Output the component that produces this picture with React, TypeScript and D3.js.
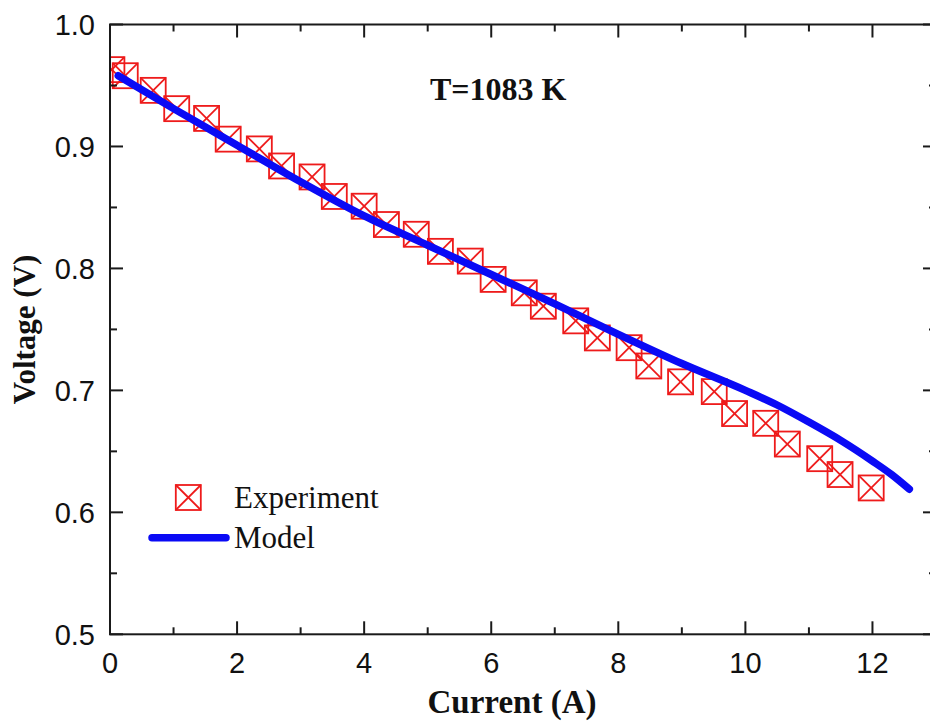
import React from "react";
import * as d3 from "d3";

const expCurrent = [0.03, 0.24, 0.68, 1.05, 1.52, 1.86, 2.35, 2.7, 3.18, 3.53, 4.0, 4.35, 4.82, 5.2, 5.67, 6.03, 6.52, 6.82, 7.33, 7.67, 8.17, 8.48, 8.98, 9.51, 9.83, 10.32, 10.66, 11.17, 11.49, 11.98];
const expVoltage = [0.963, 0.958, 0.946, 0.931, 0.923, 0.906, 0.898, 0.884, 0.875, 0.859, 0.851, 0.836, 0.828, 0.814, 0.806, 0.791, 0.78, 0.769, 0.757, 0.743, 0.735, 0.72, 0.707, 0.699, 0.681, 0.673, 0.656, 0.644, 0.631, 0.62];

const modelCurrent = [0.13, 1, 2, 3, 4, 5, 6, 7, 8, 9, 10, 10.5, 11, 11.5, 12, 12.3, 12.58];
const modelVoltage = [0.958, 0.931, 0.901, 0.871, 0.843, 0.819, 0.795, 0.771, 0.746, 0.722, 0.7, 0.688, 0.674, 0.659, 0.642, 0.631, 0.619];

const xMajorTicks = [0, 2, 4, 6, 8, 10, 12];
const xMinorTicks = [1, 3, 5, 7, 9, 11];
const yMajorTicks = [0.5, 0.6, 0.7, 0.8, 0.9, 1.0];
const yMinorTicks = [0.55, 0.65, 0.75, 0.85, 0.95];

const xLabel = "Current (A)";
const yLabel = "Voltage (V)";
const annotation = "T=1083 K";
const legendLabels = ["Experiment", "Model"];

const W = 930;
const H = 726;
const L = 110;
const R = 936;
const T = 24.5;
const B = 634.3;

export default function App() {
  const x = d3.scaleLinear().domain([0, 13]).range([L, R]);
  const y = d3.scaleLinear().domain([0.5, 1.0]).range([B, T]);

  const modelData = modelCurrent.map((c, i) => [c, modelVoltage[i]] as [number, number]);
  const line = d3
    .line<[number, number]>()
    .x((d) => x(d[0]))
    .y((d) => y(d[1]))
    .curve(d3.curveMonotoneX);

  const axisColor = "#1a1a1a";
  const majorLen = 13;
  const minorLen = 7;
  const ms = 12.5;
  const red = "#ee1b1b";
  const blue = "#0a0af5";

  const marker = (cx: number, cy: number, key: string | number) => (
    <g key={key} stroke={red} strokeWidth={1.8} fill="none">
      <rect x={cx - ms} y={cy - ms} width={ms * 2} height={ms * 2} />
      <line x1={cx - ms} y1={cy - ms} x2={cx + ms} y2={cy + ms} />
      <line x1={cx - ms} y1={cy + ms} x2={cx + ms} y2={cy - ms} />
    </g>
  );

  return (
    <svg width={W} height={H} style={{ position: "absolute", left: 0, top: 0, background: "#fff" }}>
      <defs>
        <clipPath id="plotClip">
          <rect x={L} y={T} width={R - L} height={B - T} />
        </clipPath>
      </defs>
      <rect x={0} y={0} width={W} height={H} fill="#fff" />

      {/* data */}
      <g clipPath="url(#plotClip)">
        {expCurrent.map((c, i) => marker(x(c), y(expVoltage[i]), i))}
        <path d={line(modelData) || ""} fill="none" stroke={blue} strokeWidth={7.5} strokeLinecap="round" strokeLinejoin="round" />
      </g>

      {/* frame */}
      <rect x={L} y={T} width={R - L} height={B - T} fill="none" stroke={axisColor} strokeWidth={2} />

      {/* x ticks bottom & top */}
      {xMajorTicks.map((t) => (
        <g key={"xM" + t} stroke={axisColor} strokeWidth={2}>
          <line x1={x(t)} x2={x(t)} y1={B} y2={B - majorLen} />
          <line x1={x(t)} x2={x(t)} y1={T} y2={T + majorLen} />
        </g>
      ))}
      {xMinorTicks.map((t) => (
        <g key={"xm" + t} stroke={axisColor} strokeWidth={2}>
          <line x1={x(t)} x2={x(t)} y1={B} y2={B - minorLen} />
          <line x1={x(t)} x2={x(t)} y1={T} y2={T + minorLen} />
        </g>
      ))}
      {/* y ticks left & right */}
      {yMajorTicks.map((t) => (
        <g key={"yM" + t} stroke={axisColor} strokeWidth={2}>
          <line x1={L} x2={L + majorLen} y1={y(t)} y2={y(t)} />
          <line x1={R} x2={R - majorLen} y1={y(t)} y2={y(t)} />
        </g>
      ))}
      {yMinorTicks.map((t) => (
        <g key={"ym" + t} stroke={axisColor} strokeWidth={2}>
          <line x1={L} x2={L + minorLen} y1={y(t)} y2={y(t)} />
          <line x1={R} x2={R - minorLen} y1={y(t)} y2={y(t)} />
        </g>
      ))}

      {/* tick labels */}
      <g fontFamily="'Liberation Sans', Arial, sans-serif" fontSize={29} fill="#111">
        {xMajorTicks.map((t) => (
          <text key={"xl" + t} x={x(t)} y={673} textAnchor="middle">
            {t}
          </text>
        ))}
        {yMajorTicks.map((t) => (
          <text key={"yl" + t} x={95} y={y(t) + 10.5} textAnchor="end">
            {t.toFixed(1)}
          </text>
        ))}
      </g>

      {/* axis titles */}
      <text x={512} y={713} textAnchor="middle" fontFamily="'Liberation Serif', 'Times New Roman', serif" fontWeight="bold" fontSize={33} fill="#111">
        {xLabel}
      </text>
      <text
        transform={`translate(35, ${(T + B) / 2}) rotate(-90)`}
        textAnchor="middle"
        fontFamily="'Liberation Serif', 'Times New Roman', serif"
        fontWeight="bold"
        fontSize={31}
        fill="#111"
      >
        {yLabel}
      </text>

      {/* annotation */}
      <text x={430} y={100} fontFamily="'Liberation Serif', 'Times New Roman', serif" fontWeight="bold" fontSize={32} fill="#111">
        {annotation}
      </text>

      {/* legend */}
      {marker(188.3, 497.5, "legend-marker")}
      <text x={234} y={508} fontFamily="'Liberation Serif', 'Times New Roman', serif" fontSize={31} fill="#111">
        {legendLabels[0]}
      </text>
      <line x1={152} x2={226} y1={537.7} y2={537.7} stroke={blue} strokeWidth={7.5} strokeLinecap="round" />
      <text x={234} y={548} fontFamily="'Liberation Serif', 'Times New Roman', serif" fontSize={31} fill="#111">
        {legendLabels[1]}
      </text>
    </svg>
  );
}
